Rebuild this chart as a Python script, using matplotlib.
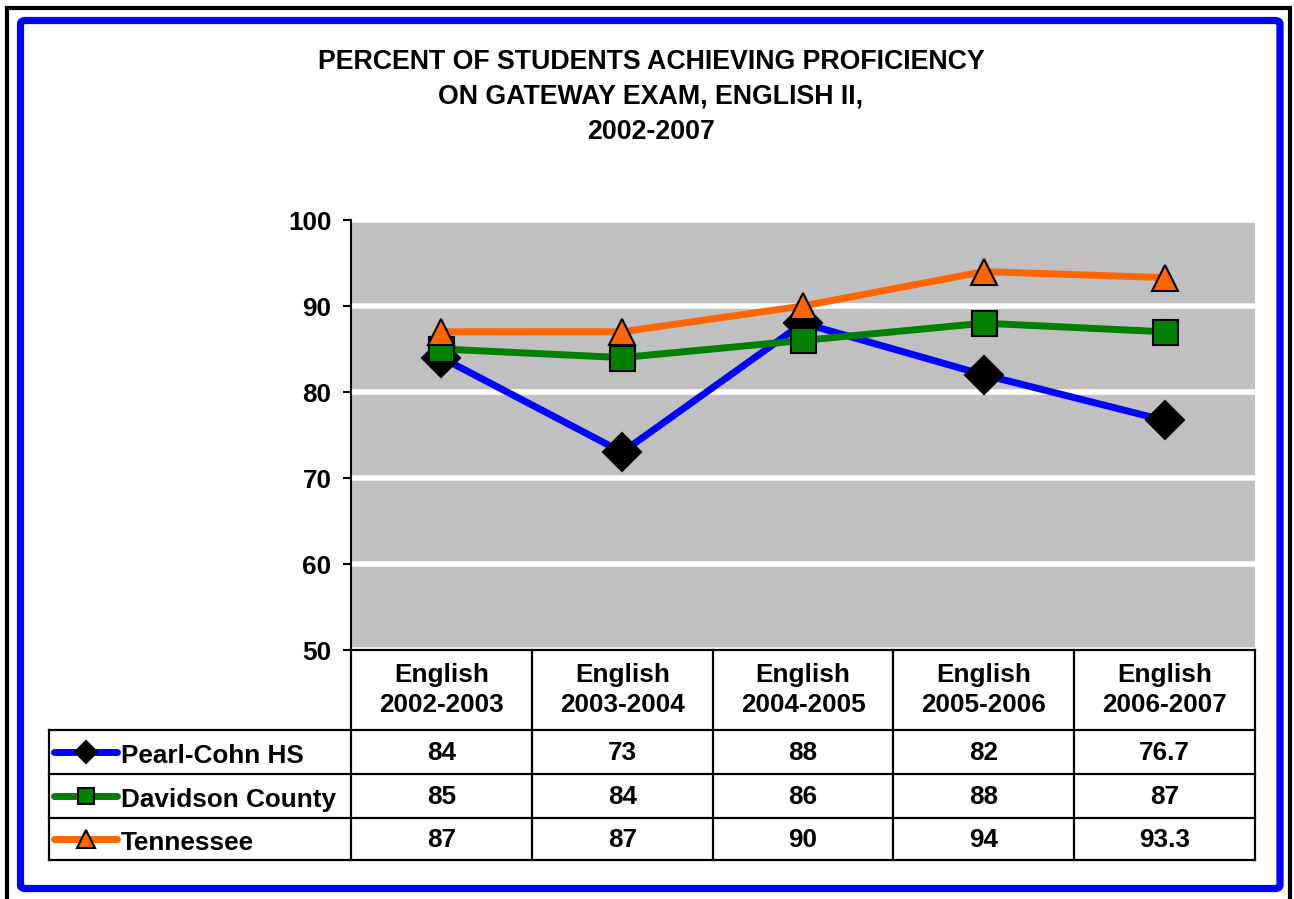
import numpy as np
import matplotlib
matplotlib.use("Agg")
import matplotlib.pyplot as plt
from matplotlib.patches import Rectangle, FancyBboxPatch

plt.rcParams['font.family'] = ['Liberation Sans', 'DejaVu Sans']
plt.rcParams['font.weight'] = 'bold'

title = "PERCENT OF STUDENTS ACHIEVING PROFICIENCY\nON GATEWAY EXAM, ENGLISH II,\n2002-2007"
categories = ["English\n2002-2003", "English\n2003-2004", "English\n2004-2005",
              "English\n2005-2006", "English\n2006-2007"]
series_names = ["Pearl-Cohn HS", "Davidson County", "Tennessee"]
pearl_cohn = [84, 73, 88, 82, 76.7]
davidson = [85, 84, 86, 88, 87]
tennessee = [87, 87, 90, 94, 93.3]
y_ticks = [50, 60, 70, 80, 90, 100]

values = [pearl_cohn, davidson, tennessee]
line_colors = ["#0000FF", "#008000", "#FF6600"]
marker_faces = ["#000000", "#008000", "#FF6600"]
markers = ["D", "s", "^"]
chart_ms = [19, 18, 19]
key_ms = [11, 12, 13]

W, H = 1294, 899
fig = plt.figure(figsize=(W / 100, H / 100), dpi=100)
fs = 18.8

# frames
fig.patches.append(Rectangle((7 / W, -0.05), (1290 - 7) / W, 1.05 - 8 / H,
                             transform=fig.transFigure, fill=False,
                             edgecolor="black", lw=3))
fig.patches.append(FancyBboxPatch((20.5 / W, 1 - 888.5 / H), (1280 - 20.5) / W, (888.5 - 20.5) / H,
                                  boxstyle="round,pad=0,rounding_size=0.004",
                                  transform=fig.transFigure, fill=False,
                                  edgecolor="#0000FF", lw=5.2))

fig.text(651 / W, 1 - 97 / H, title, ha="center", va="center",
         fontsize=19.3, fontweight="bold", linespacing=1.47)

# plot area
x0, x1, ytop, ybot = 351, 1255, 220, 650
ax = fig.add_axes([x0 / W, 1 - ybot / H, (x1 - x0) / W, (ybot - ytop) / H])
ax.set_facecolor("#C0C0C0")
x = np.arange(len(categories))
for vals, lc, mf, mk, ms in zip(values, line_colors, marker_faces, markers, chart_ms):
    ax.plot(x, vals, color=lc, lw=5, marker=mk, markersize=ms,
            markerfacecolor=mf, markeredgecolor="black", markeredgewidth=1.5,
            clip_on=False)
ax.set_xlim(-0.5, len(categories) - 0.5)
ax.set_ylim(50, 100)
ax.set_yticks(y_ticks)
ax.set_yticklabels([str(t) for t in y_ticks], fontsize=fs, fontweight="bold")
ax.set_xticks([])
ax.tick_params(axis="y", direction="out", length=6, width=1.5, pad=8)
ax.set_axisbelow(True)
ax.yaxis.grid(True, color="white", lw=4)
for s in ["top", "right", "bottom"]:
    ax.spines[s].set_visible(False)
ax.spines["left"].set_linewidth(1.5)

# data table
tleft, tbot = 49, 860
col_w = (x1 - x0) / len(categories)
leg_w = (x0 - tleft) / col_w
rows = [0, 80, 124, 168, 210]
tax = fig.add_axes([tleft / W, 1 - tbot / H, (x1 - tleft) / W, (tbot - ybot) / H])
tax.set_xlim(-0.5 - leg_w, len(categories) - 0.5)
tax.set_ylim(rows[-1], 0)
tax.axis("off")
lw_t = 1.6
right = len(categories) - 0.5
# horizontal lines
tax.plot([-0.5, right], [0, 0], color="black", lw=lw_t, clip_on=False)
for r in rows[1:]:
    tax.plot([-0.5 - leg_w, right], [r, r], color="black", lw=lw_t, clip_on=False)
# vertical lines
for i in range(len(categories) + 1):
    tax.plot([i - 0.5, i - 0.5], [0, rows[-1]], color="black", lw=lw_t, clip_on=False)
tax.plot([-0.5 - leg_w] * 2, [rows[1], rows[-1]], color="black", lw=lw_t, clip_on=False)

for i, c in enumerate(categories):
    tax.text(i, (rows[0] + rows[1]) / 2, c, ha="center", va="center",
             fontsize=fs, fontweight="bold", linespacing=1.35)

px = 1 / col_w
for j, (name, vals) in enumerate(zip(series_names, values)):
    yc = (rows[j + 1] + rows[j + 2]) / 2
    for i, v in enumerate(vals):
        tax.text(i, yc + 1, f"{v:g}", ha="center", va="center",
                 fontsize=fs, fontweight="bold")
    kx0 = -0.5 - leg_w + 5 * px
    kx1 = -0.5 - leg_w + 68 * px
    tax.plot([kx0, kx1], [yc, yc], color=line_colors[j], lw=5,
             solid_capstyle="round", clip_on=False)
    tax.plot([(kx0 + kx1) / 2], [yc], marker=markers[j], markersize=key_ms[j],
             markerfacecolor=marker_faces[j], markeredgecolor="black",
             markeredgewidth=1.5, clip_on=False)
    tax.text(-0.5 - leg_w + 72 * px, yc + 4, name, ha="left", va="center",
             fontsize=fs, fontweight="bold")

fig.savefig("out.png", dpi=100)
